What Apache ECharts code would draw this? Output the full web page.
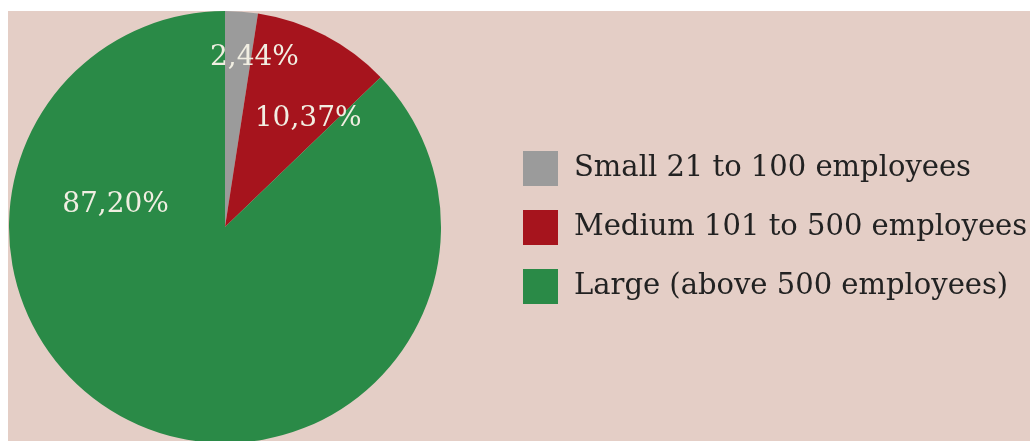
<!DOCTYPE html>
<html>
<head>
<meta charset="utf-8">
<script src="https://cdn.jsdelivr.net/npm/echarts@6/dist/echarts.min.js"></script>
<style>
html,body{margin:0;padding:0;background:#ffffff;width:1030px;height:441px;overflow:hidden;}
#chart{position:absolute;left:8px;top:11px;width:1022px;height:430px;background:#e4cec6;}
</style>
</head>
<body>
<div id="chart"></div>
<script>
const categories = ['Small 21 to 100 employees', 'Medium 101 to 500 employees', 'Large (above 500 employees)'];
const shares = [2.44, 10.37, 87.20];
const labelTexts = ['2,44%', '10,37%', '87,20%'];
const colors = ['#9b9b9b', '#a6141d', '#2a8a47'];
const labelOffsets = [[21, -59], [32, -10], [-66, -124]];

const chart = echarts.init(document.getElementById('chart'), null, {renderer: 'canvas'});
chart.setOption({
  backgroundColor: 'transparent',
  animation: false,
  legend: {
    orient: 'vertical',
    left: 510,
    top: 135,
    itemWidth: 35,
    itemHeight: 35,
    itemGap: 24,
    icon: 'rect',
    selectedMode: false,
    textStyle: {fontFamily: 'DejaVu Serif', fontSize: 29, color: '#222222', padding: [0, 0, 0, 11]},
    data: categories
  },
  series: [{
    type: 'pie',
    center: [217, 216],
    radius: 216,
    startAngle: 90,
    clockwise: true,
    avoidLabelOverlap: false,
    label: {show: true, position: 'inside', fontFamily: 'DejaVu Serif', fontSize: 28, color: '#f1eee2'},
    labelLine: {show: false},
    emphasis: {disabled: true},
    data: categories.map((c, i) => ({
      name: c,
      value: shares[i],
      itemStyle: {color: colors[i]},
      label: {formatter: labelTexts[i], offset: labelOffsets[i]}
    }))
  }]
});
</script>
</body>
</html>
